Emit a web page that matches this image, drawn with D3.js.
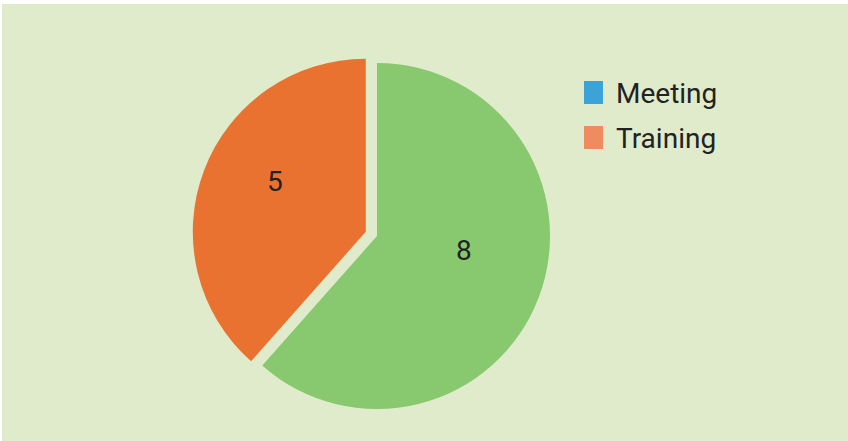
<!DOCTYPE html>
<html>
<head lang="en">
    <meta charset="UTF-8">
    <title></title>
    <script src="https://cdn.jsdelivr.net/npm/d3@7"></script>
    <style>
        body{margin:0;background:#fff;}
    </style>
</head>
<body>
</body>
</html>
<script>
    var labels=["Training","Meeting"];
    var values=[8,5];
    var legendLabels=["Meeting","Training"];
    var sliceColors=["#88c86e","#ea7230"];
    var legendColors=["#3ca3d7","#f08b5f"];

    var W=848,H=441;
    var cx=377,cy=236,R=173,explode=12;

    var _svg=d3.select('body')
            .append('svg')
            .attr('width',W)
            .attr('height',H);
    _svg.append('rect')
            .attr('x',2)
            .attr('y',4)
            .attr('width',W-2)
            .attr('height',H-4)
            .attr('fill','#dfebca');

    var _pie=d3.pie().sort(null).value(function(d){return d;});
    var _piedata=_pie(values);
    var _arc=d3.arc().innerRadius(0).outerRadius(R);
    var _labelArc=d3.arc().innerRadius(R*0.5).outerRadius(R*0.5);

    var _g=_svg.append('g')
            .attr('transform','translate('+cx+','+cy+')');

    // only the smaller slice is pulled out
    function shift(d,i){
        if(i!==1) return [0,0];
        var a=(d.startAngle+d.endAngle)/2;
        return [Math.sin(a)*explode,-Math.cos(a)*explode];
    }

    var _slices=_g.selectAll('.slice')
            .data(_piedata)
            .enter()
            .append('g')
            .attr('class','slice')
            .attr('transform',function(d,i){
                var s=shift(d,i);
                return 'translate('+s[0]+','+s[1]+')';
            });
    _slices.append('path')
            .attr('d',_arc)
            .attr('fill',function(d,i){return sliceColors[i];});
    // label placement tweaked to match the picture
    var labelNudge=[[6,-16],[-10,-20]];
    _slices.append('text')
            .attr('x',function(d,i){return _labelArc.centroid(d)[0]+labelNudge[i][0];})
            .attr('y',function(d,i){return _labelArc.centroid(d)[1]+labelNudge[i][1];})
            .attr('dy','0.35em')
            .attr('text-anchor','middle')
            .style('font-family','Roboto, sans-serif')
            .style('font-size','28px')
            .attr('fill','#222')
            .text(function(d){return d.data;});

    var _legend=_svg.selectAll('.legend')
            .data(legendLabels)
            .enter()
            .append('g')
            .attr('class','legend')
            .attr('transform',function(d,i){return 'translate(584,'+(81+i*45)+')';});
    _legend.append('rect')
            .attr('width',19)
            .attr('height',23)
            .attr('fill',function(d,i){return legendColors[i];});
    _legend.append('text')
            .attr('x',32)
            .attr('y',22)
            .style('font-family','Roboto, sans-serif')
            .style('font-size','28px')
            .attr('fill','#222')
            .text(function(d){return d;});
</script>
